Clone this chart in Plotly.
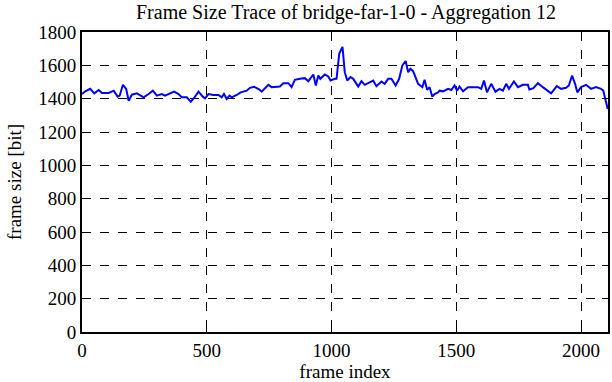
import plotly.graph_objects as go

frame_index = [0, 13, 33, 49, 67, 80, 107, 127, 143, 151, 164, 177, 187, 200, 220, 247, 267, 284, 300, 320, 333,
               353, 369, 387, 400, 420, 436, 449, 467, 484, 493, 507, 527, 547, 560, 569, 580, 591, 600, 620, 636,
               660, 673, 690, 711, 720, 747, 760, 793, 807, 827, 840, 853, 873, 893, 907, 927, 937, 947, 955, 973,
               987, 996, 1013, 1020, 1031, 1044, 1053, 1063, 1076, 1087, 1107, 1120, 1133, 1153, 1167, 1180, 1200,
               1213, 1227, 1240, 1257, 1271, 1284, 1297, 1307, 1316, 1327, 1347, 1364, 1373, 1383, 1393, 1404, 1413,
               1427, 1433, 1447, 1467, 1480, 1493, 1503, 1513, 1527, 1547, 1587, 1600, 1611, 1623, 1640, 1657, 1673,
               1687, 1700, 1711, 1731, 1747, 1767, 1787, 1793, 1809, 1827, 1847, 1867, 1880, 1903, 1920, 1940, 1951,
               1964, 1976, 1985, 2000, 2020, 2040, 2060, 2080, 2089, 2097, 2107]
frame_size = [1428, 1444, 1459, 1432, 1452, 1434, 1434, 1448, 1412, 1418, 1483, 1459, 1388, 1424, 1432, 1408, 1428,
              1448, 1418, 1428, 1418,
              1434, 1442, 1428, 1408, 1408, 1382, 1404, 1442, 1412, 1402, 1428, 1422, 1422, 1408, 1428, 1398, 1418,
              1408, 1422, 1438,
              1448, 1465, 1471, 1455, 1442, 1483, 1469, 1473, 1493, 1493, 1469, 1513, 1519, 1523, 1505, 1545, 1479,
              1539, 1519, 1545,
              1533, 1509, 1519, 1519, 1671, 1711, 1559, 1509, 1530, 1519, 1473, 1505, 1483, 1499, 1509, 1475, 1503,
              1489, 1519, 1519, 1479, 1519, 1600, 1626, 1559, 1579, 1565, 1489, 1469, 1514, 1453, 1469, 1412, 1428,
              1438, 1448, 1444, 1459, 1452, 1479, 1448, 1473, 1444, 1469, 1469, 1459, 1509, 1438, 1489, 1442, 1459,
              1448, 1489, 1459, 1503, 1469, 1483, 1483, 1455, 1463, 1493, 1469, 1448, 1432, 1475, 1459, 1465, 1479,
              1539, 1489, 1438, 1469, 1483, 1459, 1469, 1459, 1448, 1398, 1338]

x_ticks = [0, 500, 1000, 1500, 2000]
y_ticks = [0, 200, 400, 600, 800, 1000, 1200, 1400, 1600, 1800]

font_family = "Liberation Serif, Times New Roman, serif"

fig = go.Figure()
fig.add_trace(go.Scatter(x=frame_index, y=frame_size, mode="lines",
                         line=dict(color="#0000ff", width=2), showlegend=False))

axis_common = dict(
    showline=True, linecolor="black", linewidth=2, mirror="ticks",
    ticks="inside", ticklen=6, tickcolor="black", tickwidth=1,
    showgrid=True, gridcolor="black", gridwidth=1, griddash="dash",
    zeroline=False, tickfont=dict(family=font_family, size=19, color="black"),
)

fig.update_layout(
    width=612, height=382,
    margin=dict(l=82, r=2, t=32, b=50),
    paper_bgcolor="white", plot_bgcolor="white",
    title=dict(text="Frame Size Trace of bridge-far-1-0 - Aggregation 12",
               x=346 / 612, xanchor="center", y=1 - 12 / 382, yanchor="middle",
               font=dict(family=font_family, size=20, color="black")),
    xaxis=dict(range=[0, 2108], tickvals=x_ticks,
               title=dict(text="frame index", font=dict(family=font_family, size=19, color="black"), standoff=5),
               **axis_common),
    yaxis=dict(range=[0, 1800], tickvals=y_ticks,
               title=dict(text="frame size [bit]", font=dict(family=font_family, size=19, color="black"), standoff=12),
               **axis_common),
)

fig.write_html("out.html", config={"displayModeBar": False},
               post_script="document.body.style.margin='0px';")
